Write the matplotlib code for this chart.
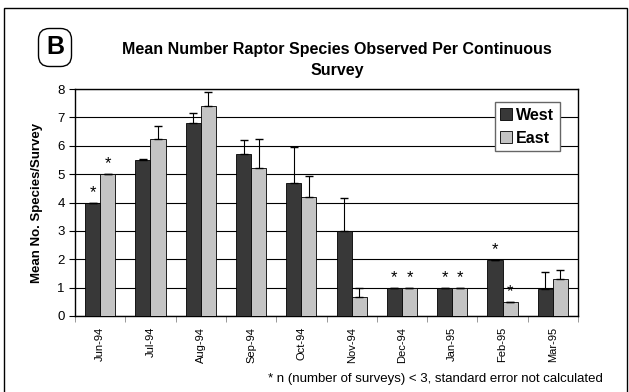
import numpy as np
import matplotlib
matplotlib.use("Agg")
import matplotlib.pyplot as plt
from matplotlib.patches import Rectangle, FancyBboxPatch

plt.rcParams["font.family"] = ["Liberation Sans", "DejaVu Sans"]

months = ["Jun-94", "Jul-94", "Aug-94", "Sep-94", "Oct-94",
          "Nov-94", "Dec-94", "Jan-95", "Feb-95", "Mar-95"]
west = [4.0, 5.5, 6.8, 5.7, 4.7, 3.0, 1.0, 1.0, 1.97, 0.96]
east = [5.0, 6.25, 7.4, 5.2, 4.2, 0.66, 1.0, 1.0, 0.49, 1.3]
west_err = [0, 0.03, 0.35, 0.5, 1.25, 1.17, 0, 0, 0, 0.6]
east_err = [0, 0.45, 0.5, 1.05, 0.75, 0.33, 0, 0, 0, 0.32]
west_star = [True, False, False, False, False, False, True, True, True, False]
east_star = [True, False, False, False, False, False, True, True, True, False]

fig = plt.figure(figsize=(6.29, 3.92), dpi=100)
ax = fig.add_axes([75 / 629, 1 - 316 / 392, 503 / 629, 227 / 392])

x = np.arange(len(months))
w = 0.3
zero = [0] * len(months)
ax.bar(x - w / 2, west, w, color="#383838", edgecolor="black", linewidth=0.6,
       yerr=[zero, west_err], error_kw=dict(ecolor="black", capsize=3, elinewidth=0.8),
       label="West", zorder=3)
ax.bar(x + w / 2, east, w, color="#c4c4c4", edgecolor="black", linewidth=0.6,
       yerr=[zero, east_err], error_kw=dict(ecolor="black", capsize=3, elinewidth=0.8),
       label="East", zorder=3)

# asterisks: n < 3
for i in range(len(months)):
    if west_star[i]:
        ax.text(x[i] - w / 2, west[i] + 0.1, "*", ha="center", va="bottom", fontsize=12)
    if east_star[i]:
        ax.text(x[i] + w / 2, east[i] + 0.1, "*", ha="center", va="bottom", fontsize=12)

ax.set_xlim(-0.5, len(months) - 0.5)
ax.set_ylim(0, 8)
ax.set_yticks(range(9))
ax.yaxis.grid(True, color="black", linewidth=0.8, zorder=0)
ax.set_axisbelow(True)
ax.set_xticks(x)
ax.set_xticklabels(months, rotation=90, fontsize=8)
ax.set_xticks(np.arange(-0.5, len(months), 1), minor=True)
ax.tick_params(axis="x", which="major", length=0, pad=8)
ax.tick_params(axis="x", which="minor", length=4, direction="out", color="#888")
ax.tick_params(axis="y", labelsize=9.5, length=4)
for s in ax.spines.values():
    s.set_linewidth(1.0)
ax.set_ylabel("Mean No. Species/Survey", fontsize=9.5, fontweight="bold", labelpad=10)

ax.legend(loc="upper right", bbox_to_anchor=(0.964, 0.943), borderaxespad=0,
          prop={"weight": "bold", "size": 11.5}, fancybox=False, edgecolor="#666",
          framealpha=1, handlelength=0.7, handleheight=0.7, handletextpad=0.3,
          borderpad=0.35, labelspacing=0.5)

fig.text(337 / 629, 1 - 60 / 392, "Mean Number Raptor Species Observed Per Continuous\nSurvey",
         ha="center", va="center", fontsize=11.5, fontweight="bold", linespacing=1.45)

# panel letter in a rounded box (small axes in pixel units)
axb = fig.add_axes([37 / 629, 1 - 68 / 392, 36 / 629, 41 / 392])
axb.set_xlim(0, 36)
axb.set_ylim(0, 41)
axb.axis("off")
axb.add_patch(FancyBboxPatch((1.5, 1.5), 33, 38, boxstyle="round,pad=0,rounding_size=11",
                             facecolor="white", edgecolor="black", linewidth=1.0))
axb.text(18, 20.5, "B", ha="center", va="center", fontsize=18, fontweight="bold")

fig.text(603 / 629, 1 - 379 / 392, "* n (number of surveys) < 3, standard error not calculated",
         ha="right", va="center", fontsize=9.5)

fig.patches.append(Rectangle((4 / 629, -0.05), 623 / 629, 1 - 8 / 392 + 0.05,
                             transform=fig.transFigure, fill=False,
                             edgecolor="black", linewidth=1.0))

fig.savefig("out.png", dpi=100)
